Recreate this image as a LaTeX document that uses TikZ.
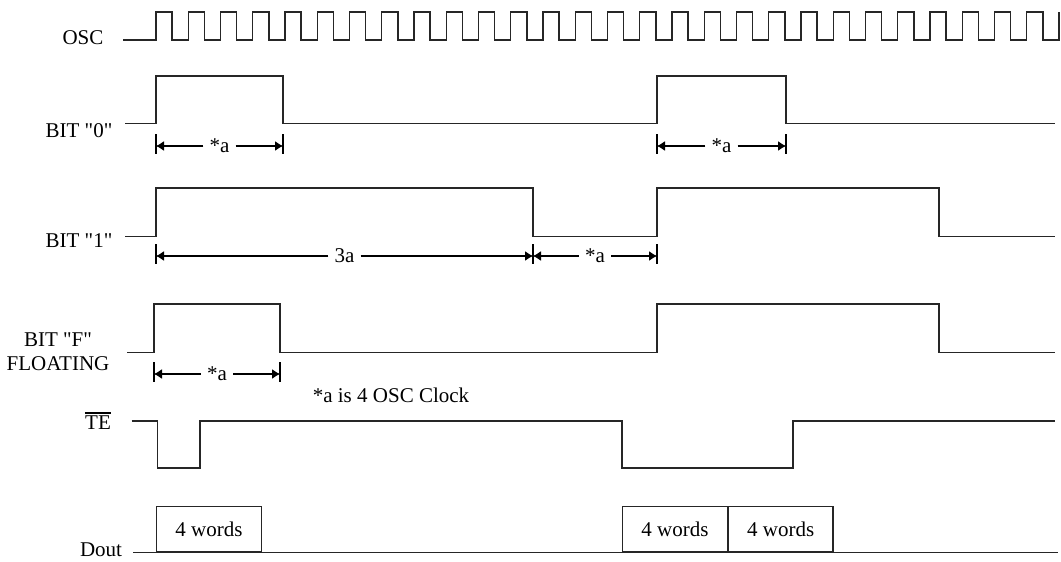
\documentclass[tikz,border=0pt]{standalone}
\usepackage{fontspec}
\setmainfont{Liberation Serif}
\usetikzlibrary{arrows.meta}
\tikzset{sig/.style={line width=1.4pt,black!85,line join=miter},
  dim/.style={-{Latex[length=8pt,width=10pt]},line width=1.1pt},
  dimtick/.style={line width=1.1pt},
  lbl/.style={font=\fontsize{21}{24}\selectfont,inner sep=0pt,align=center},
  wordbox/.style={draw,line width=1.3pt,black!85,minimum width=104.5pt,minimum height=45.5pt,
    inner sep=0pt,font=\fontsize{21}{24}\selectfont,text=black}}

\begin{document}
\begin{tikzpicture}[x=1pt,y=-1pt]
\useasboundingbox (0,0) rectangle (1061,562);
% signal names
\node[lbl] (osc) at (83,38) {OSC};
\node[lbl] (bit0) at (79,131) {BIT \textquotedbl0\textquotedbl};
\node[lbl] (bit1) at (79,241) {BIT \textquotedbl1\textquotedbl};
\node[lbl] (bitf) at (58,352) {BIT \textquotedbl F\textquotedbl\\FLOATING};
\node[lbl] (te) at (98,423) {TE};
\draw[line width=1.2pt] ([yshift=3pt]te.north west) -- ([yshift=3pt]te.north east);
\node[lbl] (dout) at (101,550) {Dout};
% oscillator
\draw[sig] (123,40) foreach \k in {0,...,27} {
  -- ({156+32.25*\k},40) -- ++(0,-28) -- ++(16.1,0) -- ++(0,28)} -- (1059,40) -- (1059,12);
% bit waveforms
\draw[sig] (125,123.5) -- (156,123.5) -- (156,76) -- (283,76) -- (283,123.5) -- (657,123.5)
  -- (657,76) -- (786,76) -- (786,123.5) -- (1055,123.5);
\draw[sig] (125,236.5) -- (156,236.5) -- (156,188) -- (533,188) -- (533,236.5) -- (657,236.5)
  -- (657,188) -- (939,188) -- (939,236.5) -- (1055,236.5);
\draw[sig] (127,352.5) -- (154,352.5) -- (154,304) -- (280,304) -- (280,352.5) -- (657,352.5)
  -- (657,304) -- (939,304) -- (939,352.5) -- (1055,352.5);
\draw[sig] (131.5,421) -- (157.5,421) -- (157.5,468) -- (200,468) -- (200,421) -- (622,421)
  -- (622,468) -- (793,468) -- (793,421) -- (1055,421);
% dout
\draw[sig] (133,552.5) -- (1058,552.5);
\node[wordbox,anchor=south west] (w1) at (156,552.5) {4 words};
\node[wordbox,anchor=south west] (w2) at (622,552.5) {4 words};
\node[wordbox,anchor=south west] (w3) at (w2.south east) {4 words};
% widths
\foreach \xa/\xb/\yy/\lab/\nm in {156/283/146/*a/da,657/786/146/*a/db,
    156/533/256/3a/dc,533/657/256/*a/dd,154/280/374/*a/de} {
  \coordinate (\nm-l) at (\xa,\yy);
  \coordinate (\nm-r) at (\xb,\yy);
  \node[lbl,inner xsep=6pt] (\nm) at ({(\xa+\xb)/2},\yy) {\lab};
  \draw[dim] (\nm.west) -- (\nm-l);
  \draw[dim] (\nm.east) -- (\nm-r);
  \draw[dimtick] ([yshift=12pt]\nm-l) -- ([yshift=-8pt]\nm-l);
  \draw[dimtick] ([yshift=12pt]\nm-r) -- ([yshift=-8pt]\nm-r);
}
\node[lbl] (note) at (391,395) {*a is 4 OSC Clock};
\end{tikzpicture}
\end{document}
